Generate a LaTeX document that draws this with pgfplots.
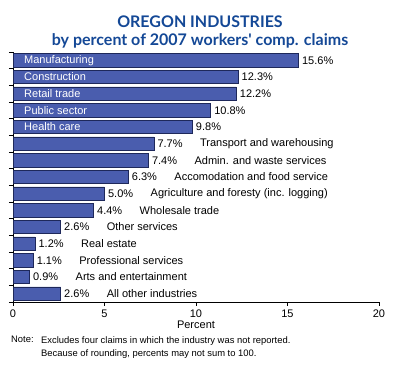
\documentclass[border=0pt]{standalone}
\usepackage{pgfplots}
\pgfplotsset{compat=1.18}
\usepackage{pgfplotstable}
\usepackage{fontspec}
\setmainfont{Liberation Sans}
\newfontfamily\titlefont{Lato}
\definecolor{barfill}{RGB}{74,93,174}
\definecolor{baredge}{RGB}{30,40,90}
\definecolor{titleblue}{RGB}{20,72,150}
\pgfplotstableread[col sep=comma]{
y,val,name
0,15.6,Manufacturing
1,12.3,Construction
2,12.2,Retail trade
3,10.8,Public sector
4,9.8,Health care
}\inside
\pgfplotstableread[col sep=comma]{
y,val,name
5,7.7,Transport and warehousing
6,7.4,Admin. and waste services
7,6.3,Accomodation and food service
8,5.0,Agriculture and foresty (inc. logging)
9,4.4,Wholesale trade
10,2.6,Other services
11,1.2,Real estate
12,1.1,Professional services
13,0.9,Arts and entertainment
14,2.6,All other industries
}\outside
\begin{document}
\begin{tikzpicture}[x=1pt,y=1pt]
\useasboundingbox (0,0) rectangle (400,374);
\node[font=\titlefont\bfseries\fontsize{16}{18}\selectfont, text=titleblue, align=center] at (200,342) {OREGON INDUSTRIES\\by percent of 2007 workers' comp. claims};
\begin{axis}[
  at={(13pt,72pt)}, anchor=south west,
  scale only axis, width=366pt, height=250pt,
  xmin=0, xmax=20, ymin=-0.5, ymax=14.5, y dir=reverse,
  axis x line*=bottom, axis y line*=left,
  axis line style={-, line width=0.8pt},
  xtick={0,5,10,15,20}, ytick={-0.5,0.5,...,14.5}, yticklabels={},
  tick align=outside, major tick length=4pt,
  tick style={black, line width=0.8pt},
  ticklabel style={font=\fontsize{11}{12}\selectfont},
  /pgf/number format/assume math mode=true,
  xlabel={Percent}, xlabel style={font=\fontsize{11}{12}\selectfont, yshift=3pt},
  clip=false,
]
\addplot[xbar, bar width=0.8, fill=barfill, draw=baredge, line width=0.6pt,
  nodes near coords={\pgfmathprintnumber[fixed,precision=1,fixed zerofill]{\pgfplotspointmeta}\%},
  nodes near coords style={font=\fontsize{11}{12}\selectfont, anchor=west, xshift=0pt},
  point meta=x] table[x=val, y=y] {\inside};
\addplot[xbar, bar width=0.8, fill=barfill, draw=baredge, line width=0.6pt,
  nodes near coords={\pgfmathprintnumber[fixed,precision=1,fixed zerofill]{\pgfplotspointmeta}\%},
  nodes near coords style={font=\fontsize{11}{12}\selectfont, anchor=west, xshift=0pt},
  point meta=x] table[x=val, y=y] {\outside};
\addplot[draw=none, mark=none, nodes near coords, point meta=explicit symbolic,
  nodes near coords style={font=\fontsize{11}{12}\selectfont, anchor=west, text=white, xshift=11pt, inner sep=0pt}]
  table[x expr=0, y=y, meta=name] {\inside};
\addplot[draw=none, mark=none, nodes near coords, point meta=explicit symbolic,
  nodes near coords style={font=\fontsize{11}{12}\selectfont, anchor=west, xshift=46pt, inner sep=0pt}]
  table[x=val, y=y, meta=name] {\outside};
\end{axis}
\node[anchor=north west, font=\fontsize{9.4}{13}\selectfont, align=left, inner sep=0pt] at (11,38) {Note:};
\node[anchor=north west, font=\fontsize{9.4}{13}\selectfont, align=left, inner sep=0pt] at (41,38) {Excludes four claims in which the industry was not reported.\\Because of rounding, percents may not sum to 100.};
\end{tikzpicture}
\end{document}
